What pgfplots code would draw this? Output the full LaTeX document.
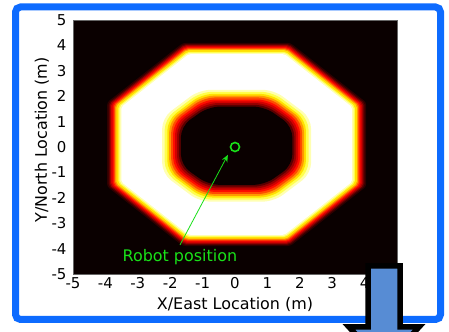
\documentclass[border=0pt]{standalone}
\usepackage{pgfplots}
\pgfplotsset{compat=1.18}
\usepackage{fontspec}
\setmainfont{DejaVu Sans}
\usetikzlibrary{arrows.meta}
\definecolor{bgdark}{rgb}{0.04,0,0}
\definecolor{h0}{rgb}{0.18,0,0}
\definecolor{h1}{rgb}{0.35,0,0}
\definecolor{h2}{rgb}{0.60,0,0}
\definecolor{h3}{rgb}{0.82,0,0}
\definecolor{h4}{rgb}{1,0.05,0}
\definecolor{h5}{rgb}{1,0.30,0}
\definecolor{h6}{rgb}{1,0.60,0}
\definecolor{h7}{rgb}{1,0.88,0}
\definecolor{h8}{rgb}{1,1,0.30}
\definecolor{h9}{rgb}{1,1,0.70}
\definecolor{robotgreen}{rgb}{0.10,0.88,0.10}
\definecolor{frameblue}{rgb}{0.05,0.42,1.0}
\definecolor{arrowblue}{rgb}{0.34,0.55,0.83}
\begin{document}
\begin{tikzpicture}
\useasboundingbox (0,0) rectangle (449bp,332bp);
\fill[white] (0,0) rectangle (449bp,332bp);
\draw[line width=7bp, frameblue, rounded corners=5bp] (15.5bp,12.5bp) rectangle (440.5bp,325bp);
\begin{axis}[
  at={(73bp,58bp)}, anchor=south west,
  scale only axis, width=324bp, height=254bp,
  xmin=-5, xmax=5, ymin=-5, ymax=5,
  xtick={-5,-4,-3,-2,-1,0,1,2,3,4,5},
  xticklabels={-5,-4,-3,-2,-1,0,1,2,3,4,5},
  ytick={-5,-4,-3,-2,-1,0,1,2,3,4,5},
  yticklabels={-5,-4,-3,-2,-1,0,1,2,3,4,5},
  tick style={draw=none},
  ticklabel style={font=\fontsize{15}{17}\selectfont},
  yticklabel style={xshift=-3bp},
  axis line style={draw=black!60, line width=0.4bp},
  axis background/.style={fill=bgdark},
  xlabel={X/East Location (m)},
  ylabel={Y/North Location (m)},
  label style={font=\fontsize{16}{18}\selectfont},
  xlabel style={at={(axis description cs:0.5,-0.122)}, anchor=center},
  ylabel style={at={(axis description cs:-0.0957,0.528)}, anchor=center},
  ring/.style={draw=none, mark=none, forget plot},
]
% outer edge of the octagonal ring (black -> white)
\addplot[ring, fill=h0, rounded corners=3bp] coordinates {(4.05,1.756) (1.706,4.10) (-1.606,4.10) (-3.95,1.756) (-3.95,-1.556) (-1.606,-3.90) (1.706,-3.90) (4.05,-1.556)} -- cycle;
\addplot[ring, fill=h1, rounded corners=2bp] coordinates {(4.00,1.735) (1.685,4.05) (-1.585,4.05) (-3.90,1.735) (-3.90,-1.535) (-1.585,-3.85) (1.685,-3.85) (4.00,-1.535)} -- cycle;
\addplot[ring, fill=h2, rounded corners=2bp] coordinates {(3.96,1.719) (1.669,4.01) (-1.569,4.01) (-3.86,1.719) (-3.86,-1.519) (-1.569,-3.81) (1.669,-3.81) (3.96,-1.519)} -- cycle;
\addplot[ring, fill=h3, rounded corners=2bp] coordinates {(3.92,1.702) (1.652,3.97) (-1.552,3.97) (-3.82,1.702) (-3.82,-1.502) (-1.552,-3.77) (1.652,-3.77) (3.92,-1.502)} -- cycle;
\addplot[ring, fill=h4, rounded corners=2bp] coordinates {(3.88,1.686) (1.636,3.93) (-1.536,3.93) (-3.78,1.686) (-3.78,-1.486) (-1.536,-3.73) (1.636,-3.73) (3.88,-1.486)} -- cycle;
\addplot[ring, fill=h5, rounded corners=2bp] coordinates {(3.84,1.669) (1.619,3.89) (-1.519,3.89) (-3.74,1.669) (-3.74,-1.469) (-1.519,-3.69) (1.619,-3.69) (3.84,-1.469)} -- cycle;
\addplot[ring, fill=h6, rounded corners=2bp] coordinates {(3.80,1.653) (1.603,3.85) (-1.503,3.85) (-3.70,1.653) (-3.70,-1.453) (-1.503,-3.65) (1.603,-3.65) (3.80,-1.453)} -- cycle;
\addplot[ring, fill=h7, rounded corners=2bp] coordinates {(3.76,1.636) (1.586,3.81) (-1.486,3.81) (-3.66,1.636) (-3.66,-1.436) (-1.486,-3.61) (1.586,-3.61) (3.76,-1.436)} -- cycle;
\addplot[ring, fill=h8, rounded corners=2bp] coordinates {(3.70,1.611) (1.561,3.75) (-1.461,3.75) (-3.60,1.611) (-3.60,-1.411) (-1.461,-3.55) (1.561,-3.55) (3.70,-1.411)} -- cycle;
\addplot[ring, fill=h9, rounded corners=2bp] coordinates {(3.66,1.595) (1.545,3.71) (-1.445,3.71) (-3.56,1.595) (-3.56,-1.395) (-1.445,-3.51) (1.545,-3.51) (3.66,-1.395)} -- cycle;
\addplot[ring, fill=white, rounded corners=2bp] coordinates {(3.61,1.574) (1.524,3.66) (-1.424,3.66) (-3.51,1.574) (-3.51,-1.374) (-1.424,-3.46) (1.524,-3.46) (3.61,-1.374)} -- cycle;
% inner hole (white -> black)
\addplot[ring, fill=h9, rounded corners=11bp] coordinates {(2.35,1.15) (1.20,2.25) (-1.10,2.25) (-2.25,1.15) (-2.25,-1.05) (-1.10,-2.15) (1.20,-2.15) (2.35,-1.05)} -- cycle;
\addplot[ring, fill=h8, rounded corners=11bp] coordinates {(2.27,1.11) (1.16,2.17) (-1.06,2.17) (-2.17,1.11) (-2.17,-1.01) (-1.06,-2.07) (1.16,-2.07) (2.27,-1.01)} -- cycle;
\addplot[ring, fill=h7, rounded corners=11bp] coordinates {(2.19,1.07) (1.12,2.09) (-1.02,2.09) (-2.09,1.07) (-2.09,-0.97) (-1.02,-1.99) (1.12,-1.99) (2.19,-0.97)} -- cycle;
\addplot[ring, fill=h6, rounded corners=11bp] coordinates {(2.13,1.035) (1.09,2.02) (-0.99,2.02) (-2.03,1.035) (-2.03,-0.935) (-0.99,-1.92) (1.09,-1.92) (2.13,-0.935)} -- cycle;
\addplot[ring, fill=h5, rounded corners=11bp] coordinates {(2.07,1.00) (1.06,1.95) (-0.96,1.95) (-1.97,1.00) (-1.97,-0.90) (-0.96,-1.85) (1.06,-1.85) (2.07,-0.90)} -- cycle;
\addplot[ring, fill=h4, rounded corners=11bp] coordinates {(2.01,0.96) (1.03,1.87) (-0.93,1.87) (-1.91,0.96) (-1.91,-0.86) (-0.93,-1.77) (1.03,-1.77) (2.01,-0.86)} -- cycle;
\addplot[ring, fill=h3, rounded corners=11bp] coordinates {(1.95,0.925) (1.00,1.80) (-0.90,1.80) (-1.85,0.925) (-1.85,-0.825) (-0.90,-1.70) (1.00,-1.70) (1.95,-0.825)} -- cycle;
\addplot[ring, fill=h2, rounded corners=11bp] coordinates {(1.89,0.89) (0.97,1.73) (-0.87,1.73) (-1.79,0.89) (-1.79,-0.79) (-0.87,-1.63) (0.97,-1.63) (1.89,-0.79)} -- cycle;
\addplot[ring, fill=h1, rounded corners=11bp] coordinates {(1.83,0.855) (0.94,1.66) (-0.84,1.66) (-1.73,0.855) (-1.73,-0.755) (-0.84,-1.56) (0.94,-1.56) (1.83,-0.755)} -- cycle;
\addplot[ring, fill=bgdark, rounded corners=11bp] coordinates {(1.77,0.82) (0.91,1.59) (-0.81,1.59) (-1.67,0.82) (-1.67,-0.72) (-0.81,-1.49) (0.91,-1.49) (1.77,-0.72)} -- cycle;
% robot position
\addplot[only marks, mark=o, mark size=4.5bp, mark options={draw=robotgreen, line width=1.6bp}, forget plot] coordinates {(0,0)};
\draw[robotgreen, line width=0.8bp, -{Stealth[length=7bp,width=6bp]}] (axis cs:-1.70,-3.86) -- (axis cs:-0.22,-0.31);
\node[text=robotgreen, font=\fontsize{16}{18}\selectfont] at (axis cs:-1.7,-4.33) {Robot position};
\end{axis}
% blue down arrow
\draw[line width=5.5bp, black, fill=arrowblue, line join=miter]
  (368bp,66bp) -- (400bp,66bp) -- (400bp,5bp) -- (419bp,5bp) -- (384bp,-33bp) -- (349bp,5bp) -- (368bp,5bp) -- cycle;
\end{tikzpicture}
\end{document}
